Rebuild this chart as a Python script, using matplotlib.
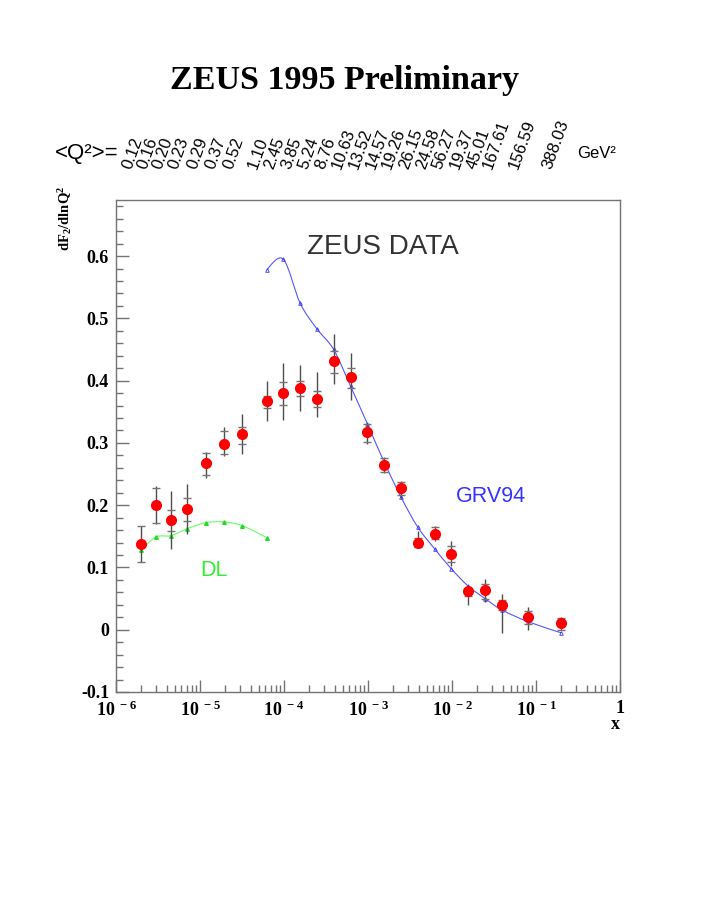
import numpy as np
import matplotlib
matplotlib.use("Agg")
import matplotlib.pyplot as plt
from matplotlib.path import Path
from matplotlib.patches import PathPatch
from matplotlib import ticker, transforms

plt.rcParams["mathtext.fontset"] = "custom"
plt.rcParams["mathtext.rm"] = "Liberation Serif:bold"
plt.rcParams["mathtext.bf"] = "Liberation Serif:bold"
plt.rcParams["mathtext.it"] = "Liberation Serif:bold"

SERIF = "Liberation Serif"
SANS = "Liberation Sans"

# === ZEUS 1995 preliminary: dF2/dlnQ2 vs x ===
x = [2.0e-6, 3.0e-6, 4.5e-6, 7.0e-6, 1.18e-5, 1.93e-5, 3.2e-5, 6.2e-5,
     9.8e-5, 1.56e-4, 2.47e-4, 3.9e-4, 6.2e-4, 9.8e-4, 1.56e-3, 2.47e-3,
     3.9e-3, 6.2e-3, 9.8e-3, 1.56e-2, 2.47e-2, 3.9e-2, 8.0e-2, 0.2]
slope = [0.137, 0.200, 0.176, 0.194, 0.267, 0.299, 0.314, 0.367,
         0.380, 0.388, 0.370, 0.431, 0.405, 0.317, 0.264, 0.228,
         0.140, 0.153, 0.121, 0.062, 0.063, 0.039, 0.020, 0.010]
# total errors (up / down)
tot_up = [0.029, 0.031, 0.046, 0.040, 0.018, 0.026, 0.032, 0.032,
          0.048, 0.037, 0.044, 0.044, 0.039, 0.015, 0.014, 0.011,
          0.019, 0.014, 0.022, 0.006, 0.019, 0.019, 0.016, 0.010]
tot_dn = [0.028, 0.030, 0.046, 0.040, 0.023, 0.020, 0.032, 0.032,
          0.043, 0.037, 0.029, 0.036, 0.036, 0.019, 0.013, 0.016,
          0.008, 0.010, 0.018, 0.023, 0.019, 0.045, 0.021, 0.011]
# statistical errors (up / down)
stat_up = [0.029, 0.027, 0.016, 0.018, 0.017, 0.020, 0.011, 0.009,
           0.017, 0.012, 0.013, 0.017, 0.015, 0.014, 0.011, 0.009,
           0.007, 0.012, 0.014, 0.004, 0.011, 0.008, 0.010, 0.009]
stat_dn = [0.029, 0.028, 0.017, 0.019, 0.018, 0.017, 0.016, 0.011,
           0.019, 0.012, 0.013, 0.019, 0.017, 0.016, 0.011, 0.011,
           0.007, 0.008, 0.013, 0.008, 0.013, 0.008, 0.011, 0.010]

q2_labels = ["0.12", "0.16", "0.20", "0.23", "0.29", "0.37", "0.52", "1.10",
             "2.45", "3.85", "5.24", "8.76", "10.63", "13.52", "14.57", "19.26",
             "26.15", "24.58", "56.27", "19.37", "45.01", "167.61", "156.59", "388.03"]

# model curves
grv_x = x[7:]
grv_y = [0.578, 0.595, 0.524, 0.483, 0.450, 0.391, 0.331, 0.269, 0.213,
         0.165, 0.130, 0.098, 0.070, 0.050, 0.032, 0.013, -0.005]
dl_x = x[:8]
dl_y = [0.128, 0.149, 0.151, 0.162, 0.172, 0.173, 0.167, 0.148]


def smooth_path(xs, ys):
    # Catmull-Rom through the points, in log-x space, drawn as cubic Beziers
    lx = np.log10(xs)
    ly = np.asarray(ys, dtype=float)
    pts = np.column_stack([lx, ly])
    ext = np.vstack([pts[0], pts, pts[-1]])
    verts = [pts[0]]
    codes = [Path.MOVETO]
    for i in range(len(pts) - 1):
        p0, p1, p2, p3 = ext[i], ext[i + 1], ext[i + 2], ext[i + 3]
        c1 = p1 + (p2 - p0) / 6.0
        c2 = p2 - (p3 - p1) / 6.0
        verts += [c1, c2, p2]
        codes += [Path.CURVE4] * 3
    verts = np.array(verts)
    verts[:, 0] = 10 ** verts[:, 0]
    return Path(verts, codes)


fig = plt.figure(figsize=(7.08, 9.17), dpi=100)
ax = fig.add_axes([116 / 708, 1 - 692 / 917, 504 / 708, 492 / 917])

ax.set_xscale("log")
ax.set_xlim(1e-6, 1)
ax.set_ylim(-0.1, 0.69)

FRAME = "0.45"
for sp in ax.spines.values():
    sp.set_color(FRAME)
    sp.set_linewidth(1.0)

# curves
ax.add_patch(PathPatch(smooth_path(grv_x, grv_y), fill=False, ec="#5555ff", lw=0.8))
ax.plot(grv_x, grv_y, ls="none", marker="^", ms=2.6, mfc="none", mec="#3333ff", mew=0.6)
ax.add_patch(PathPatch(smooth_path(dl_x, dl_y), fill=False, ec="#66ff66", lw=0.8))
ax.plot(dl_x, dl_y, ls="none", marker="^", ms=2.6, color="#22dd22")

# data with errors
ax.errorbar(x, slope, yerr=[tot_dn, tot_up], fmt="none", ecolor="0.3", elinewidth=1.0)
ax.errorbar(x, slope, yerr=[stat_dn, stat_up], fmt="none", ecolor="0.45",
            elinewidth=0, capsize=3.2, capthick=1.0)
ax.plot(x, slope, ls="none", marker="o", ms=7, color="red", mec="red")

# ticks
ax.yaxis.set_major_locator(ticker.MultipleLocator(0.1))
ax.yaxis.set_minor_locator(ticker.MultipleLocator(0.02))
ax.yaxis.set_major_formatter(ticker.FuncFormatter(lambda v, p: "0" if abs(v) < 1e-9 else "%g" % v))
ax.xaxis.set_major_locator(ticker.LogLocator(base=10, numticks=10))
ax.xaxis.set_minor_locator(ticker.LogLocator(base=10, subs=np.arange(2, 10), numticks=20))


def xfmt(v, p):
    e = int(round(np.log10(v)))
    if e == 0:
        return "1"
    return r"$10^{\ %d}$" % e


ax.xaxis.set_major_formatter(ticker.FuncFormatter(xfmt))
ax.xaxis.set_minor_formatter(ticker.NullFormatter())
ax.tick_params(which="both", direction="in", color=FRAME, top=False, right=False)
ax.tick_params(which="major", length=9, width=1.0)
ax.tick_params(which="minor", length=5, width=1.0)
ax.tick_params(axis="y", which="major", pad=5)
ax.tick_params(axis="x", which="major", pad=6)
for lab in ax.get_yticklabels() + ax.get_xticklabels():
    lab.set_fontfamily(SERIF)
    lab.set_fontweight("bold")
    lab.set_fontsize(13)

ax.text(1.0, -0.067, "x", transform=ax.transAxes, ha="right", va="center",
        fontsize=13, fontweight="bold", family=SERIF)
ax.text(-0.101, 0.962, r"dF$_{2}$/dlnQ$^{2}$", transform=ax.transAxes, rotation=90,
        ha="center", va="center", fontsize=10.5, fontweight="bold", family=SERIF)

# annotations
ax.text(1.5e-3, 0.614, "ZEUS DATA", ha="center", va="center", fontsize=20,
        color="#333333", family=SANS)
ax.text(0.029, 0.214, "GRV94", ha="center", va="center", fontsize=15.5,
        color="#3333ff", family=SANS)
ax.text(1.47e-5, 0.095, "DL", ha="center", va="center", fontsize=15.5,
        color="#33ee33", family=SANS)

# title and Q^2 header
fig.text(345 / 708, 1 - 81 / 917, "ZEUS 1995 Preliminary", ha="center", va="center",
         fontsize=24.5, fontweight="bold", family=SERIF)
fig.text(55 / 708, 1 - 153 / 917, "<Q²>=", ha="left", va="center", fontsize=16, family=SANS)
fig.text(577 / 708, 1 - 153 / 917, "GeV²", ha="left", va="center", fontsize=12, family=SANS)

trans = transforms.blended_transform_factory(ax.transData, fig.transFigure) + \
    transforms.ScaledTranslation(-14 / 100, 0, fig.dpi_scale_trans)
for xv, lab in zip(x, q2_labels):
    fig.text(xv, 1 - 168 / 917, lab, transform=trans, rotation=70, rotation_mode="anchor",
             ha="left", va="center", fontsize=12, family=SANS)

fig.savefig("out.png", dpi=100)
